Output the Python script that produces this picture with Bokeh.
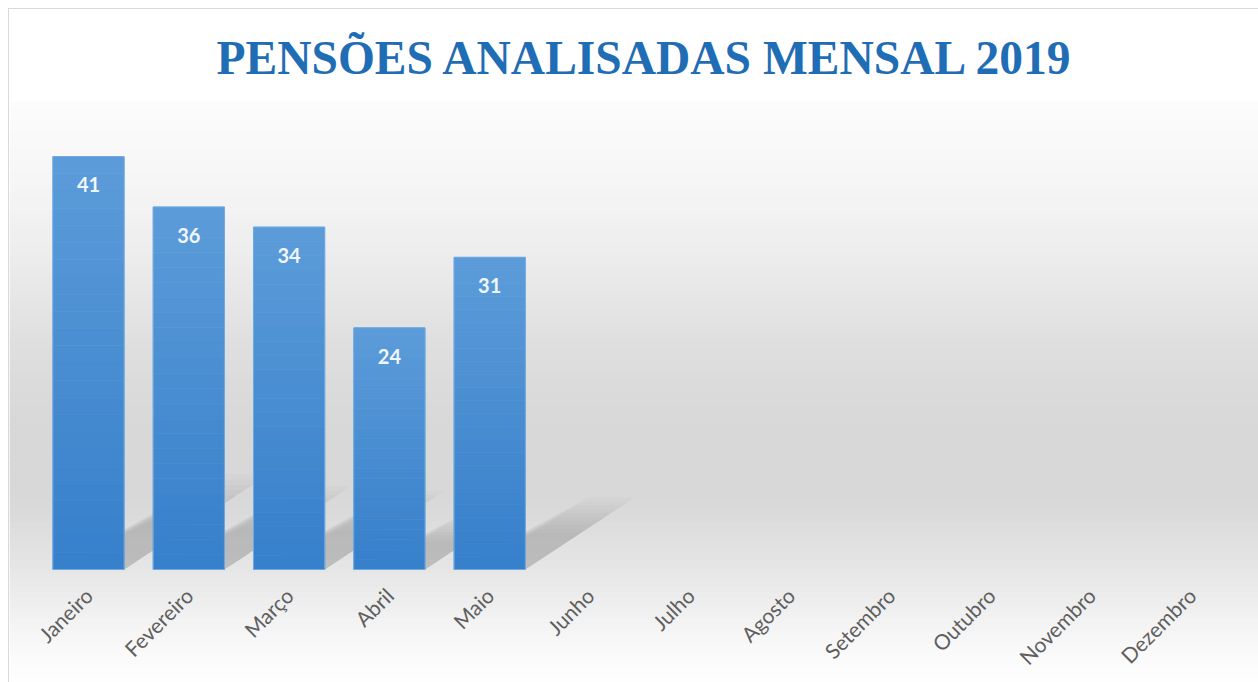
import numpy as np
from bokeh.plotting import figure
from bokeh.models import Range1d, FixedTicker, BoxAnnotation, ColumnDataSource, Title
from bokeh.core.properties import value
from bokeh.embed import file_html
from bokeh.resources import INLINE

# ---- data ----
months = ["Janeiro", "Fevereiro", "Março", "Abril", "Maio", "Junho",
          "Julho", "Agosto", "Setembro", "Outubro", "Novembro", "Dezembro"]
values = [41, 36, 34, 24, 31]          # only first five months reported
title_text = "PENSÕES ANALISADAS  MENSAL 2019"

W, H = 1250, 674
TOP = 92                               # canvas px reserved for title
PX_PER_UNIT = 10.07
BASE = 560                             # baseline, canvas px
y_end = (BASE - TOP) / PX_PER_UNIT
y_start = -(H - BASE) / PX_PER_UNIT

cat_px = 100.3
first_px = 79.0
x_start = -first_px / cat_px
x_end = x_start + W / cat_px

p = figure(width=W, height=H, output_backend="svg", toolbar_location=None,
           x_range=Range1d(x_start, x_end), y_range=Range1d(y_start, y_end),
           min_border_left=0, min_border_right=0, min_border_bottom=0,
           min_border_top=TOP, border_fill_color="#ffffff",
           background_fill_color="#ffffff", outline_line_color=None,
           styles={"margin-left": "8px", "margin-top": "8px",
                   "border-top": "1px solid #d9d9d9", "border-left": "1px solid #d9d9d9"})

t = Title(text=title_text, align="left", text_font="Liberation Serif",
          text_font_size="47.5px", text_font_style="bold", text_color="#1f6db5",
          standoff=36, offset=207)
p.add_layout(t, "above")

# ---- background vertical gradient (canvas-pixel stops -> data units) ----
stops_px = [92, 172, 252, 332, 412, 492, 552, 602, 642, 674]
stops_c = [252, 246, 236, 223, 216, 216, 228, 240, 250, 255]
n = 90
edges = np.linspace(TOP, H, n + 1)
for i in range(n):
    mid = 0.5 * (edges[i] + edges[i + 1])
    g = int(round(np.interp(mid, stops_px, stops_c)))
    col = "#%02x%02x%02x" % (g, g, g)
    top_d = (BASE - (edges[i] - 0.6)) / PX_PER_UNIT
    bot_d = (BASE - (edges[i + 1] + 0.6)) / PX_PER_UNIT
    p.add_layout(BoxAnnotation(top=top_d, bottom=bot_d, fill_color=col, fill_alpha=1.0,
                               line_alpha=0, level="underlay"))

# ---- soft shadows (derived from the bar data) ----
xs = list(range(len(values)))
bw = 0.71
for s in np.linspace(1.0, 0.5, 10):
    px_list, py_list = [], []
    for x, v in zip(xs, values):
        h = 0.23 * v * s
        dx = 0.035 * v * s
        px_list.append([x - bw / 2, x + bw / 2, x + bw / 2 + dx, x - bw / 2 + dx + 0.25])
        py_list.append([0, 0, h, h])
    p.patches(px_list, py_list, fill_color="#555555", fill_alpha=0.03, line_alpha=0)

# ---- bars with vertical gradient (bands proportional to each bar's value) ----
c_top = np.array([0x5c, 0x9c, 0xd9])
c_bot = np.array([0x36, 0x7f, 0xcb])
N = 24
for k in range(N):
    f0, f1 = k / N, (k + 1) / N
    c = c_top + (c_bot - c_top) * ((k + 0.5) / N)
    col = "#%02x%02x%02x" % tuple(int(round(q)) for q in c)
    p.vbar(x=xs, top=[v * (1 - f0) for v in values], bottom=[v * (1 - f1) for v in values],
           width=bw, fill_color=col, line_color=col, line_width=0.6)

src = ColumnDataSource(dict(x=xs, top=values, label=[str(v) for v in values],
                            ylab=[v - 2.8 for v in values]))
p.vbar(x="x", top="top", bottom=0, width=bw, source=src,
       fill_alpha=0, line_color="#6fa9e2", line_width=1)
p.text(x="x", y="ylab", text="label", source=src, text_align="center",
       text_baseline="middle", text_font=value("Lato"), text_font_size="20px",
       text_font_style="bold", text_color="#f0f6fd")

# ---- axes ----
p.yaxis.visible = False
p.grid.visible = False
ax = p.xaxis[0]
ax.fixed_location = 0
ax.ticker = FixedTicker(ticks=list(range(len(months))))
ax.major_label_overrides = {i: m for i, m in enumerate(months)}
ax.major_label_orientation = np.pi / 4
ax.major_label_text_font = "Lato"
ax.major_label_text_font_size = "21px"
ax.major_label_text_color = "#5f5f5f"
ax.axis_line_color = None
ax.major_tick_line_color = None
ax.minor_tick_line_color = None
ax.major_label_standoff = 16

open("out.html", "w").write(file_html(p, INLINE))
